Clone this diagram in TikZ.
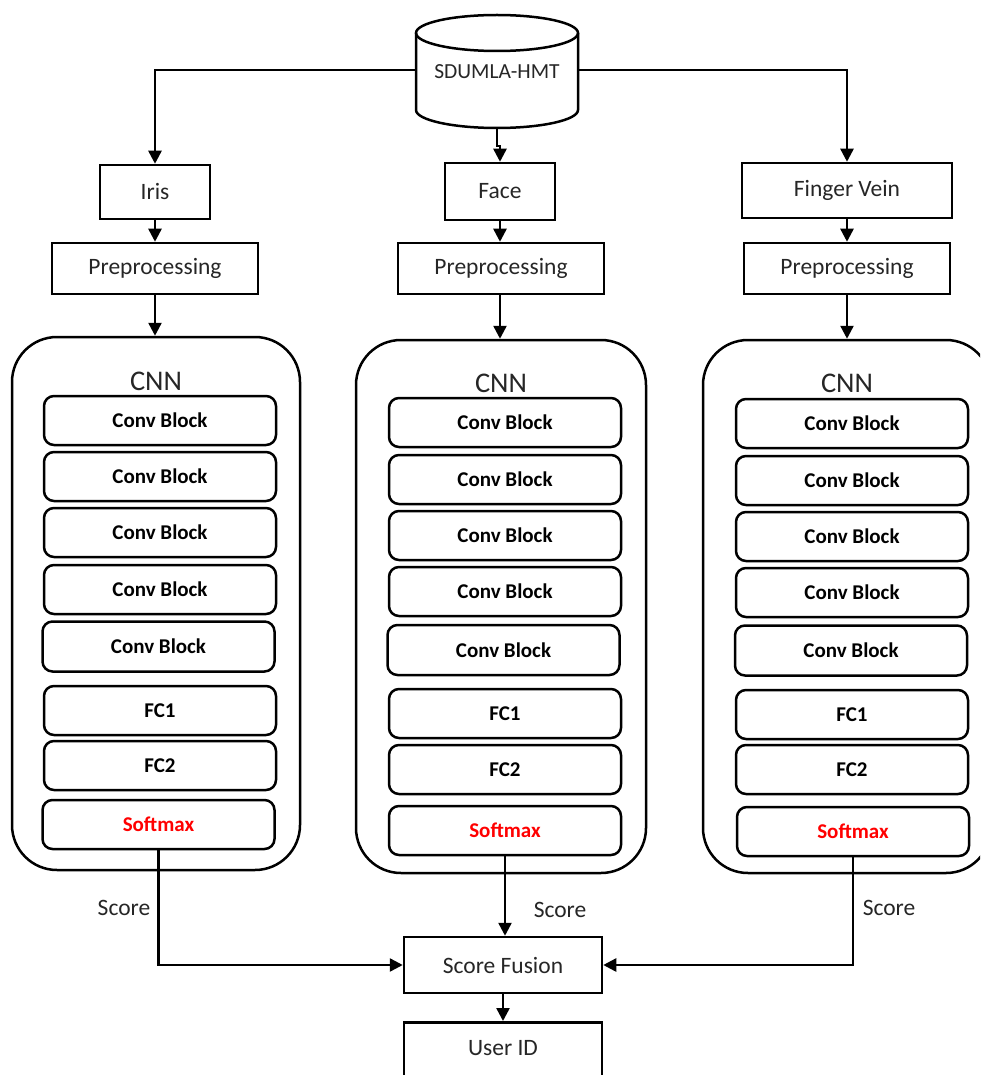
\documentclass[tikz,border=0pt]{standalone}
\usepackage{fontspec}
\setmainfont{Carlito}
\usetikzlibrary{arrows.meta}
\definecolor{txt}{gray}{0.15}
\definecolor{smred}{RGB}{255,0,0}
\tikzset{
  lw/.style={line width=2.5pt},
  plainbox/.style={draw, lw, rectangle, inner sep=0pt, text=txt, font=\fontsize{23.5}{26}\selectfont},
  layerbox/.style={draw, lw, rectangle, rounded corners=10pt, inner sep=0pt, minimum width=232pt, minimum height=49pt, font=\bfseries\fontsize{21}{24}\selectfont},
  cnnbox/.style={draw, lw, rectangle, rounded corners=45pt, inner sep=0pt, minimum width=288pt, minimum height=533pt},
  cnnlabel/.style={text=txt, font=\fontsize{28.5}{31}\selectfont},
  conn/.style={lw, -{Triangle[length=13pt,width=13pt]}},
  scorelbl/.style={text=txt, font=\fontsize{23.5}{26}\selectfont},
}
\begin{document}
\begin{tikzpicture}[x=1pt,y=-1pt]
\useasboundingbox (0,0) rectangle (980,1075);
\clip (0,0) rectangle (980,1075);
% database cylinder
\draw[lw] (416,33) -- (416,110) arc[start angle=180, end angle=0, x radius=81, y radius=18] -- (578,33);
\draw[lw] (497,33) ellipse[x radius=81, y radius=18];
\node[inner sep=0pt, minimum width=162pt, minimum height=113pt, text=txt, font=\fontsize{21.5}{24}\selectfont] (db) at (497,71.5) {SDUMLA-HMT};
% modality boxes
\node[plainbox, minimum width=110pt, minimum height=54pt] (iris) at (155,192) {Iris};
\node[plainbox, minimum width=110pt, minimum height=57pt] (face) at (500,191.5) {Face};
\node[plainbox, minimum width=210pt, minimum height=55pt] (fv) at (847,190.5) {Finger Vein};
% preprocessing
\node[plainbox, minimum width=206pt, minimum height=51pt] (pre1) at (155,268.5) {Preprocessing};
\node[plainbox, minimum width=206pt, minimum height=51pt] (pre2) at (501,268.5) {Preprocessing};
\node[plainbox, minimum width=206pt, minimum height=51pt] (pre3) at (847,268.5) {Preprocessing};
% CNN containers
\node[cnnbox] (cnn1) at (156,603.5) {};
\node[cnnbox, minimum width=290pt] (cnn2) at (501,606.5) {};
\node[cnnbox] (cnn3) at (847,606.5) {};
\node[cnnlabel] (l1) at (156,381) {CNN};
\node[cnnlabel] (l2) at (501,383) {CNN};
\node[cnnlabel] (l3) at (847,383) {CNN};
% left layers
\node[layerbox] (a1) at (160,420.5) {Conv Block};
\node[layerbox] (a2) at (160,476.5) {Conv Block};
\node[layerbox] (a3) at (160,532.5) {Conv Block};
\node[layerbox] (a4) at (160,589.5) {Conv Block};
\node[layerbox, minimum height=50pt] (a5) at (158.5,646.5) {Conv Block};
\node[layerbox] (a6) at (160,710.5) {FC1};
\node[layerbox] (a7) at (160,765.5) {FC2};
\node[layerbox, text=smred] (a8) at (158.5,824.5) {Softmax};
% middle layers
\node[layerbox] (b1) at (505,422.5) {Conv Block};
\node[layerbox] (b2) at (505,479.5) {Conv Block};
\node[layerbox] (b3) at (505,535.5) {Conv Block};
\node[layerbox] (b4) at (505,591.5) {Conv Block};
\node[layerbox, minimum height=50pt] (b5) at (503.5,650) {Conv Block};
\node[layerbox] (b6) at (505,713.5) {FC1};
\node[layerbox] (b7) at (505,769.5) {FC2};
\node[layerbox, text=smred] (b8) at (505,830.5) {Softmax};
% right layers
\node[layerbox] (c1) at (852,423.5) {Conv Block};
\node[layerbox] (c2) at (852,480.5) {Conv Block};
\node[layerbox] (c3) at (852,536.5) {Conv Block};
\node[layerbox] (c4) at (852,592.5) {Conv Block};
\node[layerbox, minimum height=50pt] (c5) at (851,650.5) {Conv Block};
\node[layerbox] (c6) at (852,714.5) {FC1};
\node[layerbox] (c7) at (852,769.5) {FC2};
\node[layerbox, text=smred] (c8) at (853,831.5) {Softmax};
% fusion
\node[plainbox, minimum width=198pt, minimum height=56pt] (sf) at (503,965) {Score Fusion};
\node[plainbox, minimum width=198pt, minimum height=58pt, anchor=north] (uid) at (503,1021) {};
\node[text=txt, font=\fontsize{23.5}{26}\selectfont] (uidt) at (503,1048) {User ID};
% connectors from database
\draw[lw, -{Triangle[length=13pt,width=13pt]}] (db.west |- 0,70) -| (iris.north);
\draw[conn] (db.east |- 0,70) -| (fv.north);
\draw[conn] (db.south) -- ++(0,18) -| (face.north);
% modality -> preprocessing
\draw[conn] (iris.south) -- (iris.south |- pre1.north);
\draw[conn] (face.south) -- (face.south |- pre2.north);
\draw[conn] (fv.south) -- (fv.south |- pre3.north);
% preprocessing -> CNN
\draw[conn] (pre1.south) -- (pre1.south |- cnn1.north);
\draw[conn] (pre2.south -| face.south) -- (face.south |- cnn2.north);
\draw[conn] (pre3.south) -- (pre3.south |- cnn3.north);
% scores
\draw[conn] (a8.south) |- (sf.west);
\draw[conn] (b8.south) -- (b8.south |- sf.north);
\draw[conn] (c8.south) |- (sf.east);
\node[scorelbl] (s1) at (124,908) {Score};
\node[scorelbl] (s2) at (560,910) {Score};
\node[scorelbl] (s3) at (889,908) {Score};
% fusion -> user id
\draw[conn] (sf.south) -- (uid.north);
\end{tikzpicture}
\end{document}
